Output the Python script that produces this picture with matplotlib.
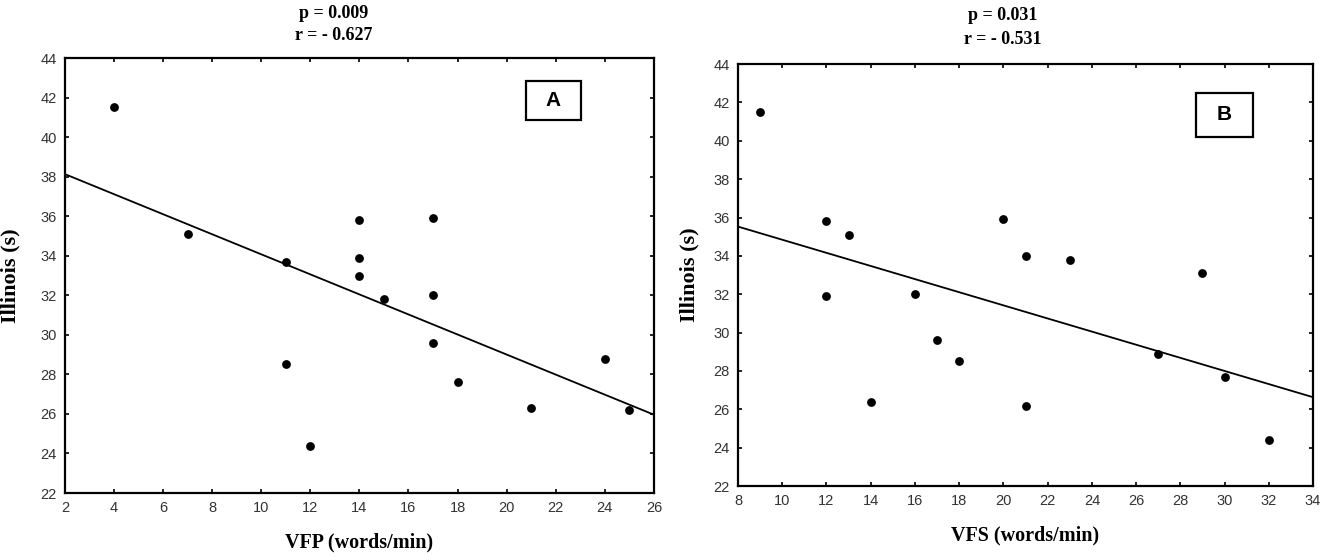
import matplotlib
matplotlib.use("Agg")
import matplotlib.pyplot as plt
from matplotlib.patches import Rectangle
import matplotlib.transforms as mtransforms
import numpy as np

# Panel A data
vfp = [4, 7, 11, 11, 12, 14, 14, 14, 15, 17, 17, 17, 18, 21, 24, 25]
illinois_a = [41.5, 35.1, 33.7, 28.5, 24.4, 35.8, 33.9, 33.0, 31.8, 35.9, 32.0, 29.6, 27.6, 26.3, 28.8, 26.2]
# Panel B data
vfs = [9, 12, 12, 13, 14, 16, 17, 18, 20, 21, 21, 23, 27, 29, 30, 32]
illinois_b = [41.5, 35.8, 31.9, 35.1, 26.4, 32.0, 29.6, 28.5, 35.9, 34.0, 26.2, 33.8, 28.9, 33.1, 27.7, 24.4]

xticks_a = list(range(2, 27, 2))
xticks_b = list(range(8, 35, 2))
yticks = list(range(22, 45, 2))

titles = [("p = 0.009", "r = - 0.627"), ("p = 0.031", "r = - 0.531")]
xlabels = ["VFP (words/min)", "VFS (words/min)"]
ylabel = "Illinois (s)"
panel_tags = ["A", "B"]

fig = plt.figure(figsize=(13.25, 5.6), dpi=100)
serif = "Liberation Serif"
sans = "Liberation Sans"

axA = fig.add_axes([0.049, 0.1196, 0.4445, 0.7768])
axB = fig.add_axes([0.557, 0.132, 0.434, 0.7536])

specs = [
    (axA, vfp, illinois_a, xticks_a, (2, 26), 20 / 1325),
    (axB, vfs, illinois_b, xticks_b, (8, 34), 699 / 1325),
]

for i, (ax, xs, ys, xt, xlim, ylab_x) in enumerate(specs):
    ax.scatter(xs, ys, s=40, c="black", marker="o", zorder=3, linewidths=0)
    k, b = np.polyfit(xs, ys, 1)
    xl = np.array(xlim, dtype=float)
    ax.plot(xl, k * xl + b, color="black", lw=1.3, zorder=2)
    ax.set_xlim(*xlim)
    ax.set_ylim(22, 44)
    ax.set_xticks(xt)
    ax.set_yticks(yticks)
    ax.tick_params(direction="in", length=3, width=1.2, top=True, right=True,
                   labelsize=10.5, labelcolor="#333333", pad=6)
    for lab in ax.get_xticklabels() + ax.get_yticklabels():
        lab.set_fontfamily(sans)
    for sp in ax.spines.values():
        sp.set_linewidth(1.6)
    ax.set_xlabel(xlabels[i], fontfamily=serif, fontweight="bold", fontsize=14.5, labelpad=12)
    ax.set_ylabel(ylabel, fontfamily=serif, fontweight="bold", fontsize=16)
    ax.yaxis.set_label_coords(ylab_x, 0.5,
                              transform=mtransforms.blended_transform_factory(fig.transFigure, ax.transAxes))

# titles
fig.text(334 / 1325, 1 - 14 / 560, titles[0][0], ha="center", va="center", fontfamily=serif, fontweight="bold", fontsize=13)
fig.text(334 / 1325, 1 - 35 / 560, titles[0][1], ha="center", va="center", fontfamily=serif, fontweight="bold", fontsize=13)
fig.text(1003 / 1325, 1 - 16 / 560, titles[1][0], ha="center", va="center", fontfamily=serif, fontweight="bold", fontsize=13)
fig.text(1003 / 1325, 1 - 40 / 560, titles[1][1], ha="center", va="center", fontfamily=serif, fontweight="bold", fontsize=13)

# panel tag boxes
boxes = [(526, 81, 581, 120), (1196, 93, 1253, 137)]
for tag, (x0, y0, x1, y1) in zip(panel_tags, boxes):
    fig.patches.append(Rectangle((x0 / 1325, 1 - y1 / 560), (x1 - x0) / 1325, (y1 - y0) / 560,
                                 transform=fig.transFigure, fc="white", ec="black", lw=1.6, zorder=5))
    fig.text((x0 + x1) / 2 / 1325, 1 - (y0 + y1) / 2 / 560, tag, ha="center", va="center",
             fontfamily=sans, fontweight="bold", fontsize=15, zorder=6)

fig.savefig("out.png", dpi=100, facecolor="white")
